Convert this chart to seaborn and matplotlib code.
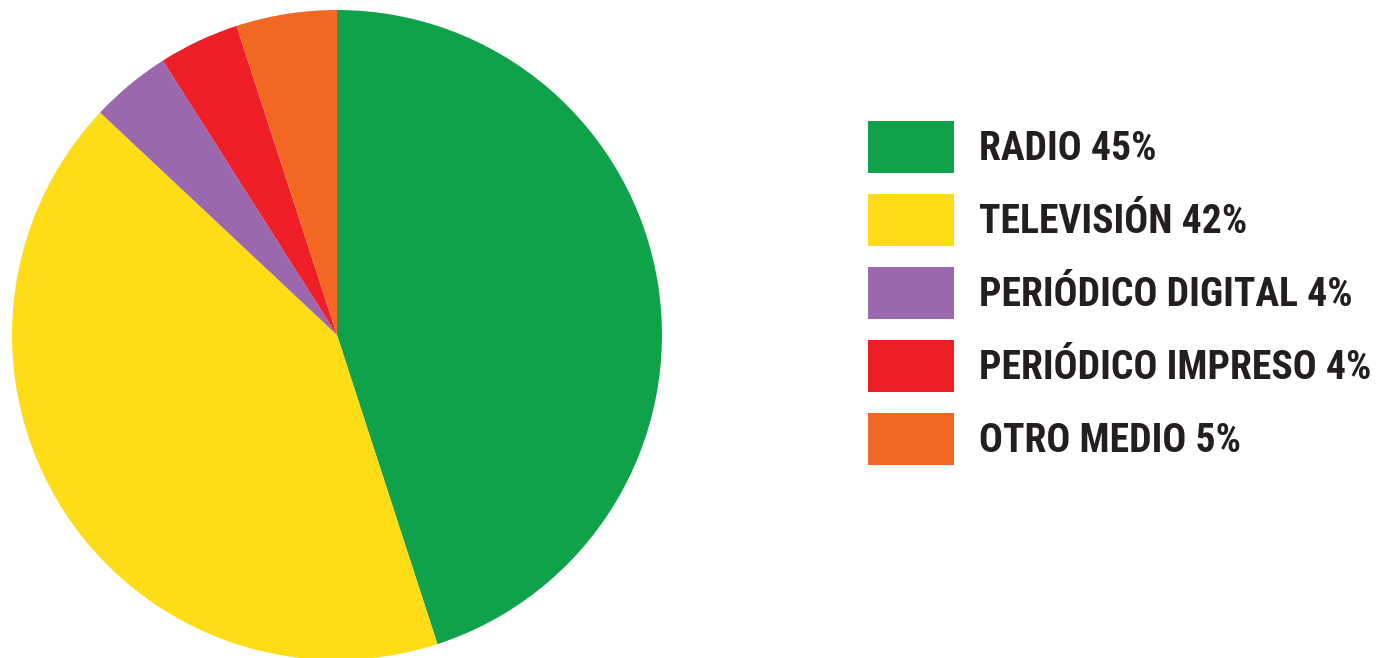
import matplotlib
matplotlib.use("Agg")
import matplotlib.pyplot as plt
import seaborn as sns
from matplotlib.patches import Patch
from matplotlib import font_manager

categories = ["RADIO", "TELEVISIÓN", "PERIÓDICO DIGITAL", "PERIÓDICO IMPRESO", "OTRO MEDIO"]
values = [45, 42, 4, 4, 5]
colors = ["#10A24A", "#FEDD17", "#9B68AE", "#EE1F26", "#F26722"]

sns.set_theme(style="white")
names = {f.name for f in font_manager.fontManager.ttflist}
fam = [n for n in ["Liberation Sans Narrow", "Roboto Condensed", "DejaVu Sans"] if n in names]
plt.rcParams['font.family'] = fam + ['DejaVu Sans']

W, H = 1379, 658
fig = plt.figure(figsize=(W / 100, H / 100), dpi=100)
fig.patch.set_facecolor("white")

cx, cy, r = 337, 335, 325
ax = fig.add_axes([(cx - r) / W, (H - cy - r) / H, 2 * r / W, 2 * r / H])
wedges, _ = ax.pie(values, colors=colors, startangle=90, counterclock=False,
                   radius=1, wedgeprops=dict(linewidth=0))
ax.set_xlim(-1, 1)
ax.set_ylim(-1, 1)
ax.set_aspect("equal")
ax.axis("off")

labels = [f"{c} {v}%" for c, v in zip(categories, values)]
handles = [Patch(facecolor=c, edgecolor="none") for c in colors]
leg = fig.legend(handles, labels, loc="upper left",
                 bbox_to_anchor=(860 / W, 1 - 113 / H),
                 frameon=False, prop=dict(size=28.5, weight="bold", stretch="condensed"),
                 handlelength=2.17, handleheight=1.643, handletextpad=0.63,
                 labelspacing=0.53, borderaxespad=0, borderpad=0.2)
for t in leg.get_texts():
    t.set_color("#231F20")

fig.savefig("out.png", dpi=100, facecolor="white")
